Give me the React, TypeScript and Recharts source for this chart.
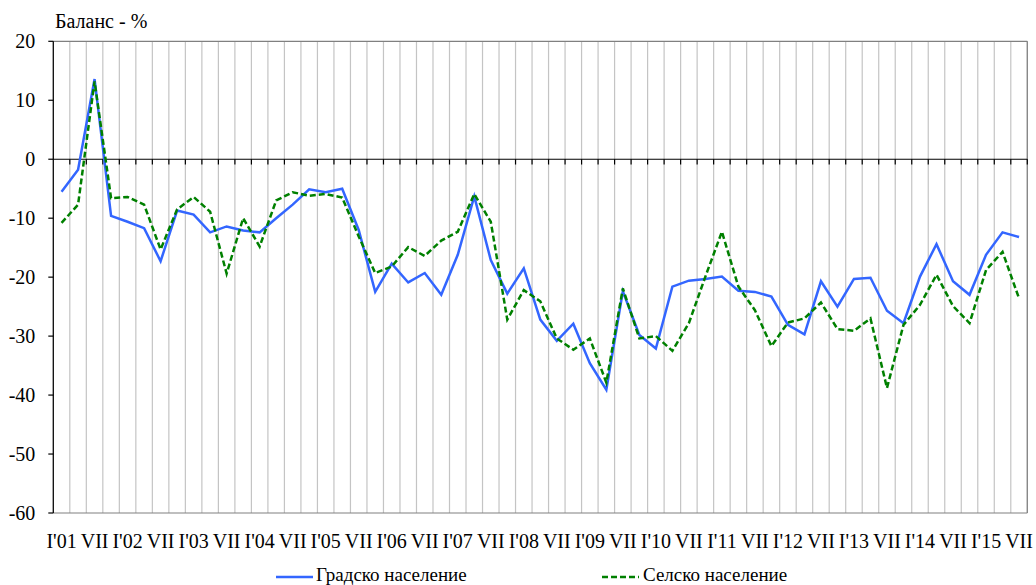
import React from 'react';
import { LineChart, Line, XAxis, YAxis, CartesianGrid, ReferenceLine } from 'recharts';

const FONT = 'Liberation Serif, Tinos, Times New Roman, DejaVu Serif, Noto Serif, serif';

const xTickLabels: string[] = [
  "I'01", 'VII', "I'02", 'VII', "I'03", 'VII', "I'04", 'VII', "I'05", 'VII',
  "I'06", 'VII', "I'07", 'VII', "I'08", 'VII', "I'09", 'VII', "I'10", 'VII',
  "I'11", 'VII', "I'12", 'VII', "I'13", 'VII', "I'14", 'VII', "I'15", 'VII',
];

const urban: number[] = [
  -5.5, -1.8, 13.6, -9.6, -10.6, -11.7, -17.3, -8.7, -9.4, -12.4,
  -11.4, -12.1, -12.4, -10.0, -7.7, -5.1, -5.6, -5.0, -12.0, -22.5,
  -17.7, -20.9, -19.3, -23.0, -16.2, -6.3, -17.1, -22.8, -18.5, -27.2,
  -30.8, -27.9, -34.6, -39.1, -22.4, -29.8, -32.1, -21.6, -20.6, -20.3,
  -19.9, -22.3, -22.5, -23.3, -28.1, -29.7, -20.7, -25.0, -20.3, -20.1,
  -25.7, -27.8, -19.9, -14.4, -20.7, -23.0, -16.2, -12.4, -13.2,
];

const rural: number[] = [
  -10.8, -7.7, 13.2, -6.6, -6.4, -7.7, -15.3, -8.5, -6.4, -8.9,
  -19.4, -10.0, -14.8, -7.0, -5.6, -6.2, -5.9, -6.5, -13.1, -19.3,
  -18.2, -14.9, -16.4, -13.8, -12.3, -5.9, -10.6, -27.2, -22.2, -24.1,
  -30.4, -32.3, -30.4, -37.9, -21.9, -30.4, -30.0, -32.5, -27.8, -19.9,
  -12.3, -21.6, -25.6, -31.7, -27.7, -27.0, -24.3, -28.8, -29.1, -27.0,
  -38.8, -28.1, -24.7, -19.6, -24.9, -27.8, -18.8, -15.7, -23.6,
];

const yTicks: number[] = [-60, -50, -40, -30, -20, -10, 0, 10, 20];

const seriesNames = ['Градско население', 'Селско население'];

const data = urban.map((u, i) => ({ idx: i, urban: u, rural: rural[i] }));
const n = urban.length;
const labelTicks = xTickLabels.map((_, i) => i * 2);
const boundaries = Array.from({ length: n + 1 }, (_, k) => k - 0.5);

const gridGen = (props: any) => {
  const { xAxis, offset } = props;
  if (xAxis && typeof xAxis.scale === 'function') {
    return boundaries.map((b) => xAxis.scale(b));
  }
  return boundaries.map((_, k) => offset.left + (k * offset.width) / n);
};

export default function App() {
  return (
    <div style={{ position: 'absolute', left: 0, top: 0, width: 1036, height: 585, background: '#fff', fontFamily: FONT }}>
      <LineChart
        width={1036}
        height={585}
        data={data}
        margin={{ top: 41.3, right: 8.7, left: 0, bottom: 32 }}
        style={{ fontFamily: FONT }}
      >
        <CartesianGrid
          horizontal={false}
          vertical
          stroke="#c4c4c4"
          strokeWidth={1.2}
          verticalCoordinatesGenerator={gridGen}
        />
        <XAxis
          type="number"
          dataKey="idx"
          domain={[-0.5, n - 0.5]}
          ticks={labelTicks}
          interval={0}
          tickFormatter={(v: number) => xTickLabels[Math.round(v / 2)]}
          axisLine={false}
          tickLine={false}
          tickSize={0}
          tickMargin={21}
          height={40}
          tick={{ fontSize: 20, fill: '#000', fontFamily: FONT }}
          allowDataOverflow
        />
        <YAxis
          type="number"
          domain={[-60, 20]}
          ticks={yTicks}
          interval={0}
          width={53.3}
          axisLine={{ stroke: '#000', strokeWidth: 1.2 }}
          tickLine={{ stroke: '#000', strokeWidth: 1.2 }}
          tickSize={5}
          tickMargin={13}
          tick={{ fontSize: 20, fill: '#000', fontFamily: FONT }}
          allowDataOverflow
        />
        <ReferenceLine y={20} stroke="#808080" strokeWidth={1.2} />
        <ReferenceLine y={-60} stroke="#808080" strokeWidth={1.2} />
        <ReferenceLine x={n - 0.5} stroke="#808080" strokeWidth={1.2} />
        <ReferenceLine y={0} stroke="#000" strokeWidth={1.2} />
        {boundaries.slice(1).map((b) => (
          <ReferenceLine
            key={'t' + b}
            segment={[{ x: b, y: 0 }, { x: b, y: -0.9 }]}
            stroke="#000"
            strokeWidth={1.2}
          />
        ))}
        <Line
          type="linear"
          dataKey="urban"
          name={seriesNames[0]}
          stroke="#3366ff"
          strokeWidth={2.5}
          dot={false}
          isAnimationActive={false}
        />
        <Line
          type="linear"
          dataKey="rural"
          name={seriesNames[1]}
          stroke="#008000"
          strokeWidth={2.5}
          strokeDasharray="6 3"
          dot={false}
          isAnimationActive={false}
        />
      </LineChart>
      <svg
        width={1036}
        height={585}
        style={{ position: 'absolute', left: 0, top: 0, pointerEvents: 'none', fontFamily: FONT }}
      >
        <text x={55} y={27.5} fontSize={20} fontFamily={FONT} fill="#000">Баланс - %</text>
        <line x1={276} y1={577} x2={313} y2={577} stroke="#3366ff" strokeWidth={2.5} />
        <text x={316} y={581} fontSize={19} fontFamily={FONT} fill="#000">{seriesNames[0]}</text>
        <line x1={602} y1={577} x2={639} y2={577} stroke="#008000" strokeWidth={2.5} strokeDasharray="6 3" />
        <text x={643} y={581} fontSize={19} fontFamily={FONT} fill="#000">{seriesNames[1]}</text>
      </svg>
    </div>
  );
}
